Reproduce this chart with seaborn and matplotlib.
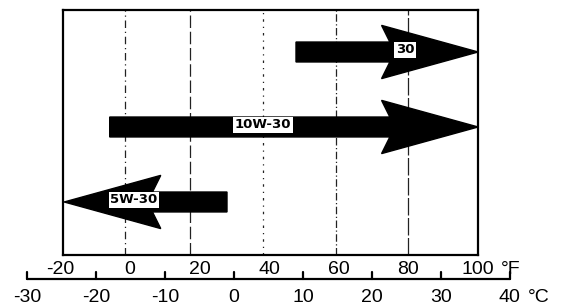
import matplotlib
matplotlib.use("Agg")
import numpy as np
import pandas as pd
import seaborn as sns
import matplotlib.pyplot as plt

# grados de aceite y rango de temperatura (°C)
grades = ["30", "10W-30", "5W-30"]
arrow_from = [9.0, -18.0, -1.0]
arrow_to = [35.4, 35.4, -24.6]
label_at = [24.8, 4.2, -14.5]
row = [2, 1, 0]

temp_c = [-30, -20, -10, 0, 10, 20, 30, 40]
temp_f = [-20, 0, 20, 40, 60, 80, 100]
grid_c = [-15.8, -6.4, 4.2, 14.8, 25.2]

df = pd.DataFrame({"grade": grades, "start": arrow_from, "end": arrow_to,
                   "label": label_at, "row": row})

# la escala °F del dibujo no es la conversion exacta, se calibra con la imagen
def f_pos(f):
    return -15.09 + 0.5046 * np.asarray(f)

sns.set_theme(style="white")
plt.rcParams["font.family"] = ["Liberation Sans", "DejaVu Sans"]

W, H = 566, 308
fig = plt.figure(figsize=(W / 100, H / 100), dpi=100)
fig.patch.set_facecolor("white")

# px -> C: x = 233.9 + 6.9*C
def px2c(px):
    return (px - 233.9) / 6.9

ax = fig.add_axes([63 / W, 1 - 255 / H, 415 / W, 245 / H])
ax.set_xlim(px2c(63), px2c(478))
ax.set_ylim(-0.707, 2.56)
ax.set_xticks([])
ax.set_yticks([])
for s in ax.spines.values():
    s.set_color("black")
    s.set_linewidth(1.6)

styles = [(0, (6, 3, 1, 3)), (0, (10, 3)), (0, (2, 4, 1, 4)), (0, (6, 2, 1, 2)), (0, (14, 2))]
for g, ls in zip(grid_c, styles):
    ax.axvline(g, color="#222222", lw=0.9, ls=ls, zorder=1)

# flechas
h, Hh, L, sw = 0.133, 0.355, 14.0, 1.2
for _, r in df.iterrows():
    d = np.sign(r["end"] - r["start"])
    y = r["row"]
    b = r["end"] - d * L
    n = b + d * sw
    xs = [r["start"], n, b, r["end"], b, n, r["start"]]
    ys = [y - h, y - h, y - Hh, y, y + Hh, y + h, y + h]
    ax.fill(xs, ys, color="black", zorder=3, clip_on=False)
    ax.text(r["label"], y + 0.03, r["grade"], ha="center", va="center",
            fontsize=9.5, fontweight="bold", color="black", zorder=4,
            family=["DejaVu Sans"],
            bbox=dict(boxstyle="square,pad=0.12", fc="white", ec="none"))

# escala de temperatura
ax2 = fig.add_axes([0, 0, 1, 53 / H])
ax2.set_xlim(px2c(0), px2c(W))
ax2.set_ylim(53, 0)
ax2.axis("off")

ax2.plot([temp_c[0], temp_c[-1]], [24, 24], color="black", lw=1.6)
for c in temp_c:
    ax2.plot([c, c], [24, 17], color="black", lw=1.6)
    ax2.text(c, 34, str(c), ha="center", va="top", fontsize=14, color="black")
ax2.text(temp_c[-1] + 2.6, 34, "°C", ha="left", va="top", fontsize=14, color="black")

for f in temp_f:
    ax2.text(f_pos(f), 22.5, str(f), ha="center", va="bottom", fontsize=14, color="black")
ax2.text(f_pos(temp_f[-1]) + 3.3, 22.5, "°F", ha="left", va="bottom", fontsize=14, color="black")

fig.savefig("out.png", dpi=100, facecolor="white")
